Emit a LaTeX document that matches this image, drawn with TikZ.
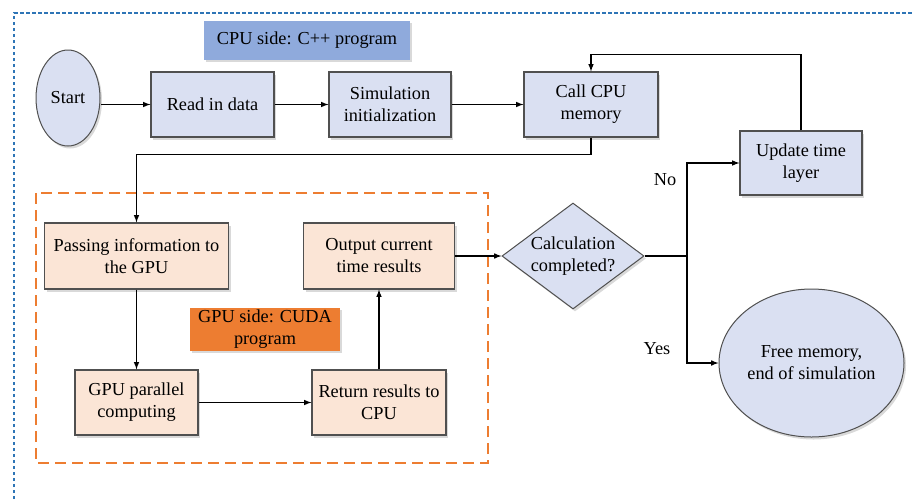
\documentclass[tikz,border=0pt]{standalone}
\usepackage{fontspec}
\setmainfont{Liberation Serif}
\usetikzlibrary{arrows,shapes,positioning,shadows}
\definecolor{cpufill}{RGB}{218,224,242}
\definecolor{gpufill}{RGB}{251,229,214}
\definecolor{cpuhead}{RGB}{143,170,220}
\definecolor{gpuhead}{RGB}{237,125,49}
\definecolor{frameblue}{RGB}{46,117,182}
\definecolor{edgegray}{RGB}{80,80,80}
\tikzset{
    basic/.style  = {align=center, font=\fontsize{18.3}{22}\selectfont, inner sep=0pt,
                     drop shadow={shadow xshift=2pt, shadow yshift=-2.5pt, opacity=0.3}},
    cpu box/.style = {basic, rectangle, draw=edgegray, line width=1.2pt, fill=cpufill},
    gpu box/.style = {basic, rectangle, draw=edgegray, line width=1.2pt, fill=gpufill},
    terminal/.style = {basic, ellipse, draw=edgegray, line width=1pt, fill=cpufill},
    decision/.style = {basic, diamond, draw=edgegray, line width=1pt, fill=cpufill},
    head/.style = {basic, rectangle},
    flow/.style = {draw, line width=1.5pt, -latex},
    answer/.style = {font=\fontsize{18.3}{22}\selectfont}
}
\begin{document}
\begin{tikzpicture}[x=1pt, y=-1pt]
    \useasboundingbox (0,0) rectangle (912,499);
    % frames
    \draw[frameblue, line width=2.2pt, dash pattern=on 3.5pt off 2.5pt] (14,499) -- (14,13) -- (912,13);
    \draw[gpuhead, line width=2pt, dash pattern=on 11pt off 6pt] (36,193) rectangle (488,463);
    % labels of the two sides
    \node[head, fill=cpuhead, minimum width=206pt, minimum height=39pt] (cpuside) at (307,40) {CPU side: C++ program};
    \node[head, fill=gpuhead, minimum width=150pt, minimum height=43pt] (gpuside) at (265,329) {GPU side: CUDA\\program};
    % cpu part
    \node[terminal, minimum width=64pt, minimum height=96pt] (start) at (68,98) {Start};
    \node[cpu box, minimum width=123pt, minimum height=65pt] (read) at (212.5,104.5) {Read in data};
    \node[cpu box, minimum width=122pt, minimum height=65pt] (init) at (390,104.5) {Simulation\\initialization};
    \node[cpu box, minimum width=134pt, minimum height=65pt] (callmem) at (591,104.5) {Call CPU\\memory};
    % gpu part
    \node[gpu box, minimum width=184pt, minimum height=66pt] (passinfo) at (136.5,256) {Passing information to\\the GPU};
    \node[gpu box, minimum width=151pt, minimum height=66pt] (output) at (379,256) {Output current\\time results};
    \node[gpu box, minimum width=123pt, minimum height=65pt] (gpucomp) at (136.5,402.5) {GPU parallel\\computing};
    \node[gpu box, minimum width=134pt, minimum height=65pt] (ret) at (379,402.5) {Return results to\\CPU};
    % check and end
    \node[decision, aspect=1.34, minimum width=142pt, minimum height=106pt] (calc) at (573,256) {Calculation\\completed?};
    \node[cpu box, minimum width=122pt, minimum height=64pt] (update) at (801,163) {Update time\\layer};
    \node[terminal, minimum width=185pt, minimum height=148pt] (freemem) at (811.5,363) {Free memory,\\end of simulation};
    \coordinate (split) at (687,256);
    % connectors
    \draw[flow] (start.east |- read.west) -- (read.west);
    \draw[flow] (read) -- (init);
    \draw[flow] (init) -- (callmem);
    \draw[flow] (callmem.south) -- ++(0,17) -| (passinfo.north);
    \draw[flow] (passinfo) -- (gpucomp);
    \draw[flow] (gpucomp) -- (ret);
    \draw[flow] (ret) -- (output);
    \draw[flow] (output) -- (calc);
    \draw[line width=1.5pt] (calc.east) -- (split);
    \draw[flow] (split) |- (update.west);
    \draw[flow] (split) |- (freemem.west);
    \draw[flow] (update.north) -- ++(0,-76) -| (callmem.north);
    \node[answer] (no) at (665,180) {No};
    \node[answer] (yes) at (657,349) {Yes};
\end{tikzpicture}
\end{document}
